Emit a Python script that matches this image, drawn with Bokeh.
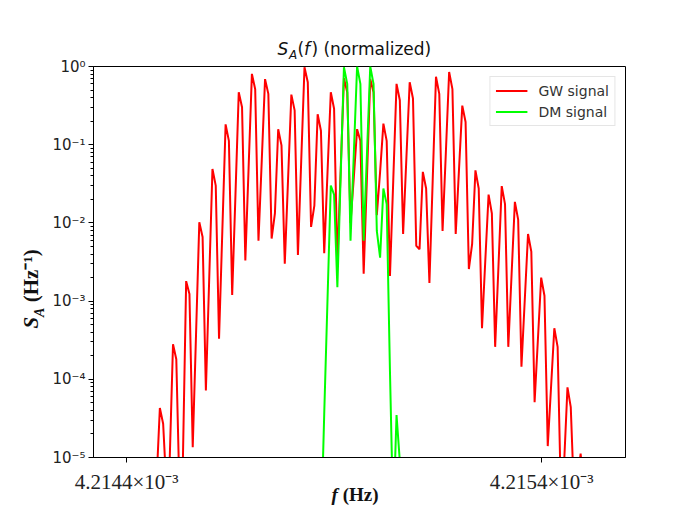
import numpy as np
from bokeh.plotting import figure
from bokeh.models import (Range1d, FixedTicker, CustomJSTickFormatter, Label,
                          Legend, LegendItem)
from bokeh.embed import file_html
from bokeh.resources import INLINE

# ---------------- data ----------------
f_start = 4.214472e-3          # first frequency bin shown (Hz)
df = 7.9214e-9                 # bin width (Hz)

gw_signal = [
    5.0e-6,
    4.3e-5, 2.7e-5, 4.0e-6, 9.5e-6,
    2.8e-4, 1.8e-4, 3.2e-6, 8.9e-6,
    1.8e-3, 1.23e-3, 1.35e-5, 3.7e-4,
    1.02e-2, 6.6e-3, 7.2e-5, 1.86e-3,
    4.9e-2, 3.0e-2, 3.3e-4, 7.8e-3,
    0.182, 0.112, 1.2e-3, 2.3e-2,
    0.468, 0.302, 3.3e-3, 5.1e-2,
    0.805, 0.513, 5.9e-3, 6.3e-2,
    0.69, 0.447, 6.3e-3, 1.32e-2,
    0.158, 9.8e-2, 3.0e-3, 3.6e-2,
    0.437, 0.275, 3.9e-3, 6.2e-2,
    0.977, 0.63, 8.9e-3, 1.66e-2,
    0.245, 0.151, 4.1e-3, 4.4e-2,
    0.468, 0.288, 3.0e-3, 4.7e-2,
    0.708, 0.468, 1.0e-2, 3.8e-2,
    0.158, 0.112, 2.24e-3, 3.8e-2,
    0.69, 0.468, 1.26e-2, 4.5e-2,
    0.186, 0.112, 2.1e-3, 3.5e-2,
    0.60, 0.37, 7.2e-3, 6.8e-2,
    0.63, 0.39, 5.1e-3, 4.6e-3,
    4.5e-2, 2.75e-2, 1.7e-3, 3.5e-2,
    0.74, 0.447, 7.9e-3, 7.9e-2,
    0.85, 0.513, 7.2e-3, 4.8e-2,
    0.316, 0.195, 2.57e-3, 5.4e-3,
    4.7e-2, 2.75e-2, 4.5e-4, 3.3e-3,
    2.3e-2, 1.32e-2, 2.6e-4, 2.75e-3,
    2.95e-2, 1.74e-2, 2.6e-4, 2.2e-3,
    1.86e-2, 1.1e-2, 1.45e-4, 1.02e-3,
    7.2e-3, 4.3e-3, 5.1e-5, 3.2e-4,
    2.0e-3, 1.17e-3, 1.4e-5, 7.9e-5,
    4.5e-4, 2.6e-4, 3.2e-6, 8.9e-6,
    7.9e-5, 4.4e-5, 3.2e-6, 5.0e-6,
    1.12e-5, 4.0e-6,
]

dm_start_index = 50            # bin index of first DM value
dm_signal = [
    1.0e-6, 3.6e-5, 1.05e-3,
    3.0e-2, 2.3e-2, 1.5e-3, 3.9e-2,
    0.98, 0.60, 5.9e-3, 7.6e-2,
    1.0, 0.60, 5.9e-3, 7.6e-2,
    1.0, 0.60, 7.9e-3, 3.6e-3,
    2.75e-2, 1.74e-2, 1.26e-4, 1.6e-6,
    3.5e-5, 8.9e-6, 3.2e-7,
]

series_labels = ["GW signal", "DM signal"]
y_ticks = [1e-5, 1e-4, 1e-3, 1e-2, 1e-1, 1.0]
y_tick_labels = ["10\u207b\u2075", "10\u207b\u2074", "10\u207b\u00b3",
                 "10\u207b\u00b2", "10\u207b\u00b9", "10\u2070"]
x_ticks = [4.2144e-3, 4.2154e-3]
x_tick_labels = ["4.2144\u00d710\u207b\u00b3", "4.2154\u00d710\u207b\u00b3"]

freq_gw = f_start + df * np.arange(len(gw_signal))
freq_dm = f_start + df * (dm_start_index + np.arange(len(dm_signal)))

# ---------------- figure ----------------
p = figure(width=692, height=508, y_axis_type="log",
           x_range=Range1d(4.214320e-3, 4.215602e-3),
           y_range=Range1d(1e-5, 1.0),
           output_backend="svg", toolbar_location=None, title=None,
           min_border_left=93, min_border_right=67,
           min_border_top=66, min_border_bottom=51)
p.background_fill_color = "white"
p.border_fill_color = "white"
p.outline_line_color = "black"
p.outline_line_width = 1
p.xgrid.visible = False
p.ygrid.visible = False

r_gw = p.line(freq_gw, gw_signal, line_color="#ff0000", line_width=2)
r_dm = p.line(freq_dm, dm_signal, line_color="#00ff00", line_width=2)

minor = [m * 10.0 ** e for e in range(-5, 0) for m in range(2, 10)]
p.yaxis.ticker = FixedTicker(ticks=y_ticks, minor_ticks=minor)
p.xaxis.ticker = FixedTicker(ticks=x_ticks)

fmt_code = """
let best = 0, bd = Infinity;
for (let i = 0; i < tvals.length; i++) {
  const d = Math.abs(Math.log(tick) - Math.log(tvals[i]));
  if (d < bd) { bd = d; best = i; }
}
return tlabels[best];
"""
p.yaxis.formatter = CustomJSTickFormatter(args=dict(tvals=y_ticks, tlabels=y_tick_labels), code=fmt_code)
p.xaxis.formatter = CustomJSTickFormatter(args=dict(tvals=x_ticks, tlabels=x_tick_labels), code=fmt_code)

for ax in (p.xaxis[0], p.yaxis[0]):
    ax.axis_line_color = "black"
    ax.major_tick_line_color = "black"
    ax.minor_tick_line_color = "black"
    ax.major_tick_in = 0
    ax.major_tick_out = 5
    ax.minor_tick_in = 0
    ax.minor_tick_out = 3
    ax.major_label_text_color = "#222222"

p.yaxis.major_label_text_font = "DejaVu Sans"
p.yaxis.major_label_text_font_size = "15px"
p.yaxis.major_label_standoff = 3
p.xaxis.major_label_text_font = "Liberation Serif"
p.xaxis.major_label_text_font_size = "21px"
p.xaxis.major_label_standoff = 7

legend = Legend(items=[LegendItem(label=series_labels[0], renderers=[r_gw]),
                       LegendItem(label=series_labels[1], renderers=[r_dm])],
                location="top_right", margin=10, padding=5, spacing=4,
                glyph_width=32, glyph_height=17, label_height=17,
                label_standoff=11, label_text_font="DejaVu Sans",
                label_text_font_size="14px", label_text_color="#333333",
                border_line_color="#cccccc", border_line_width=1,
                background_fill_alpha=0.8)
p.add_layout(legend)

# ---------------- rich text (title and axis labels) ----------------
# Labels placed in side panels are not clipped to the plot frame;
# they are positioned in canvas pixels (origin top-left, y = bottom of text box).
def lab(place, x, y, text, size, style="normal", font="DejaVu Sans", angle=0.0):
    p.add_layout(Label(x=x, y=y, x_units="canvas", y_units="canvas", text=text,
                       text_font=font, text_font_size=size, text_font_style=style,
                       text_color="#111111", text_baseline="bottom",
                       text_align="left", angle=angle), place)

# title  S_A(f) (normalized)
lab("above", 277, 58, "S\u2002\u2004\u200af", "17px", "italic")
lab("above", 297, 58, "(\u2004\u200a) (normalized)", "17px")
lab("left", 288.5, 61, "A", "12px", "italic")

# x label  f (Hz)
lab("above", 331, 504, "f", "19px", "bold italic", "Liberation Serif")
lab("left", 337.5, 504, "\u00a0(Hz)", "19px", "bold", "Liberation Serif")

# y label  S_A (Hz^-1)
A = float(np.pi / 2)
lab("right", 42.5, 328, "S", "21px", "bold italic", "Liberation Serif", A)
lab("right", 46, 316.5, "A", "14px", "bold italic", "Liberation Serif", A)
lab("right", 42.5, 307, "\u00a0(Hz\u207b\u00b9)", "21px", "bold", "Liberation Serif", A)

open("out.html", "w").write(file_html(p, INLINE))
